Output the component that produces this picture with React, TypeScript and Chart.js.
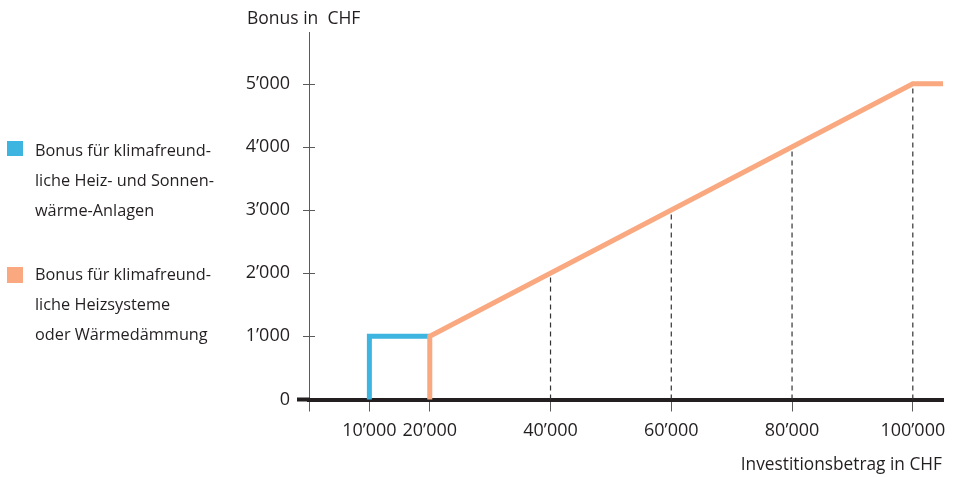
import React, { useEffect, useRef } from "react";
import { Chart, registerables } from "chart.js";

Chart.register(...registerables);

// ---- data ----
const xTicks = [0, 10000, 20000, 40000, 60000, 80000, 100000];
const yTicks = [0, 1000, 2000, 3000, 4000, 5000];
const blueX = [10000, 10000, 20000];
const blueY = [0, 1000, 1000];
const orangeX = [20000, 20000, 100000, 105000];
const orangeY = [0, 1000, 5000, 5000];
const dropX = [40000, 60000, 80000, 100000];
const dropY = [2000, 3000, 4000, 5000];
const legendBlue = ["Bonus für klimafreund-", "liche Heiz- und Sonnen-", "wärme-Anlagen"];
const legendOrange = ["Bonus für klimafreund-", "liche Heizsysteme", "oder Wärmedämmung"];
const yTitle = "Bonus in\u00a0\u00a0CHF";
const xTitle = "Investitionsbetrag in CHF";

const BLUE = "#3db5e0";
const ORANGE = "#f9a880";
const DARK = "#231f20";
const GREY = "#5a5a5a";
const TEXT = "#231f20";
const FONT = "'Open Sans', Lato, sans-serif";

const fmt = (v: number) =>
  v === 0 ? "0" : String(v).replace(/\B(?=(\d{3})+(?!\d))/g, "\u2019");

const yCrossTicks = {
  id: "yCrossTicks",
  afterDraw(chart: any) {
    const { ctx, chartArea } = chart;
    const ys = chart.scales.y;
    const x0 = chartArea.left;
    ctx.save();
    yTicks.forEach((v) => {
      const py = ys.getPixelForValue(v);
      ctx.beginPath();
      if (v === 0) {
        ctx.strokeStyle = DARK;
        ctx.lineWidth = 4;
        ctx.moveTo(x0 - 12, py);
        ctx.lineTo(x0 + 1, py);
      } else {
        ctx.strokeStyle = GREY;
        ctx.lineWidth = 1;
        ctx.moveTo(x0 - 6, Math.round(py) + 0.5);
        ctx.lineTo(x0 + 6, Math.round(py) + 0.5);
      }
      ctx.stroke();
    });
    ctx.restore();
  },
};

export default function App() {
  const ref = useRef<HTMLCanvasElement | null>(null);

  useEffect(() => {
    if (!ref.current) return;
    const lineDs = (xs: number[], ys: number[], color: string, order: number) => ({
      data: xs.map((x, i) => ({ x, y: ys[i] })),
      borderColor: color,
      borderWidth: 5,
      pointRadius: 0,
      tension: 0,
      fill: false,
      borderJoinStyle: "miter" as const,
      borderCapStyle: "butt" as const,
      clip: false as any,
      order,
    });
    const drops = dropX.map((x, i) => ({
      data: [
        { x, y: 0 },
        { x, y: dropY[i] },
      ],
      borderColor: "#333",
      borderWidth: 1.2,
      borderDash: [5, 4],
      pointRadius: 0,
      fill: false,
      clip: false as any,
      order: 3,
    }));
    const chart = new Chart(ref.current, {
      type: "line",
      data: {
        datasets: [
          lineDs(orangeX, orangeY, ORANGE, 0),
          lineDs(blueX, blueY, BLUE, 1),
          ...drops,
        ] as any,
      },
      plugins: [yCrossTicks],
      options: {
        responsive: false,
        animation: false,
        layout: { padding: { left: 229, right: 12, top: 32, bottom: 0 } },
        plugins: { legend: { display: false }, tooltip: { enabled: false } },
        scales: {
          x: {
            type: "linear",
            min: 0,
            max: 105000,
            z: 1,
            afterBuildTicks: (s: any) => {
              s.ticks = xTicks.map((v) => ({ value: v }));
            },
            afterFit: (s: any) => {
              s.height = 77.5;
              s.paddingLeft = 0;
              s.paddingRight = 0;
            },
            grid: {
              drawOnChartArea: false,
              drawTicks: true,
              tickLength: 12,
              color: GREY,
              lineWidth: 1,
            },
            border: { display: true, color: DARK, width: 4 },
            ticks: {
              callback: (v: any) => (Number(v) === 0 ? "" : fmt(Number(v))),
              font: { family: FONT, size: 18 },
              color: TEXT,
              padding: 9,
              maxRotation: 0,
              autoSkip: false,
            },
          },
          y: {
            type: "linear",
            min: 0,
            max: 5820,
            afterBuildTicks: (s: any) => {
              s.ticks = yTicks.map((v) => ({ value: v }));
            },
            afterFit: (s: any) => {
              s.width = 80;
              s.paddingTop = 0;
              s.paddingBottom = 0;
            },
            grid: { display: true, drawOnChartArea: false, drawTicks: false, color: GREY },
            border: { display: true, color: GREY, width: 1 },
            ticks: {
              callback: (v: any) => fmt(Number(v)),
              font: { family: FONT, size: 18 },
              color: TEXT,
              padding: 19,
              autoSkip: false,
            },
          },
        },
      } as any,
    });
    return () => chart.destroy();
  }, []);

  const textStyle: React.CSSProperties = {
    position: "absolute",
    fontFamily: FONT,
    fontSize: 16.3,
    color: TEXT,
    whiteSpace: "nowrap",
  };

  return (
    <div style={{ position: "fixed", left: 0, top: 0, width: 955, height: 477, background: "#fff" }}>
      <canvas ref={ref} width={955} height={477} style={{ position: "absolute", left: 0, top: 0, width: 955, height: 477 }} />
      <div style={{ ...textStyle, left: 247, top: 5, fontSize: 17.5, lineHeight: "24px" }}>{yTitle}</div>
      <div style={{ ...textStyle, right: 955 - 942, top: 452, fontSize: 17.3, lineHeight: "24px" }}>{xTitle}</div>
      <div style={{ position: "absolute", left: 7, top: 141, width: 16, height: 15, background: BLUE }} />
      <div style={{ ...textStyle, left: 35, top: 135, lineHeight: "30px" }}>
        {legendBlue.map((t, i) => (
          <div key={i}>{t}</div>
        ))}
      </div>
      <div style={{ position: "absolute", left: 7, top: 267, width: 16, height: 16, background: ORANGE }} />
      <div style={{ ...textStyle, left: 35, top: 259, lineHeight: "30px" }}>
        {legendOrange.map((t, i) => (
          <div key={i}>{t}</div>
        ))}
      </div>
    </div>
  );
}
